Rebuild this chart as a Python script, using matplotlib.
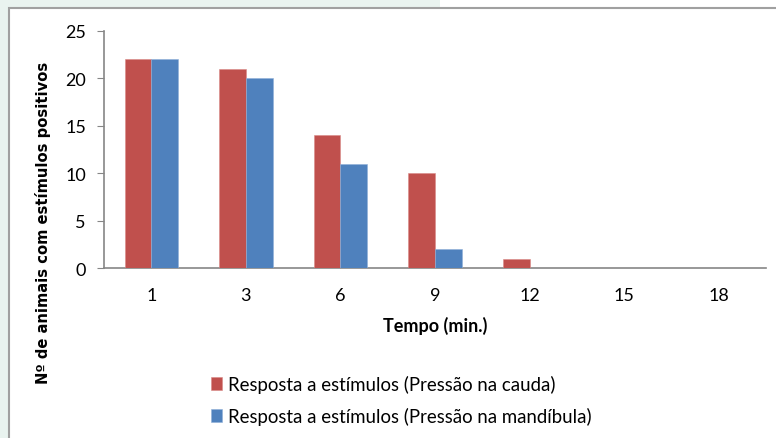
import numpy as np
import matplotlib.pyplot as plt
from matplotlib.patches import Rectangle

# Dados: número de animais com resposta positiva por tempo
tempos = ['1', '3', '6', '9', '12', '15', '18']
cauda = [22, 21, 14, 10, 1, 0, 0]
mandibula = [22, 20, 11, 2, 0, 0, 0]

cor_cauda = '#c0504d'
cor_mandibula = '#4f81bd'
cor_eixo = '#868686'

W, H = 776, 439
fig = plt.figure(figsize=(W / 100, H / 100), dpi=100)
fig.patch.set_facecolor('#e9f3ef')

# faixa branca no topo à direita e painel branco com borda
fig.patches.append(Rectangle((440 / W, 1 - 9 / H), 1, 9 / H, transform=fig.transFigure,
                             facecolor='white', edgecolor='none', zorder=0))
fig.patches.append(Rectangle((9 / W, -0.05), 1.1, (H - 9) / H + 0.05, transform=fig.transFigure,
                             facecolor='white', edgecolor='#a0a0a0', linewidth=1.5, zorder=0))

ax = fig.add_axes([104 / W, (H - 269) / H, 662 / W, 237 / H])
ax.set_facecolor('none')
ax.set_zorder(5)

x = np.arange(len(tempos))
lb = 0.282
ax.bar(x - lb / 2, cauda, lb, color=cor_cauda, edgecolor='#d98a88', linewidth=0.4,
       label='Resposta a estímulos (Pressão na cauda)', zorder=3)
ax.bar(x + lb / 2, mandibula, lb, color=cor_mandibula, edgecolor='#8fb0d8', linewidth=0.4,
       label='Resposta a estímulos (Pressão na mandíbula)', zorder=3)

ax.set_xlim(-0.5, len(tempos) - 0.5)
ax.set_ylim(0, 25)
ax.set_yticks(range(0, 26, 5))
ax.set_xticks(x)
ax.set_xticklabels(tempos)

for s in ['top', 'right']:
    ax.spines[s].set_visible(False)
for s in ['left', 'bottom']:
    ax.spines[s].set_color(cor_eixo)
    ax.spines[s].set_linewidth(1.2)

ax.tick_params(axis='y', direction='out', length=5, color=cor_eixo, pad=8,
               labelsize=13, labelcolor='black')
ax.tick_params(axis='x', length=0, pad=14, labelsize=13, labelcolor='black')
for lbl in ax.get_xticklabels() + ax.get_yticklabels():
    lbl.set_family('Lato')

ax.set_xlabel('Tempo (min.)', family='Lato', fontweight='bold', fontsize=13, labelpad=9)
fig.text(43 / W, 1 - 223 / H, 'Nº de animais com estímulos positivos', rotation=90,
         ha='center', va='center', family='DejaVu Sans', fontweight='bold', fontsize=10.6)

leg = fig.legend(loc='upper left', bbox_to_anchor=(194 / W, 1 - 359 / H), frameon=False,
                 prop={'family': 'Lato', 'size': 13.4}, handlelength=0.62, handleheight=0.7,
                 handletextpad=0.32, labelspacing=0.78)

plt.savefig('out.png', dpi=100, facecolor=fig.get_facecolor())
